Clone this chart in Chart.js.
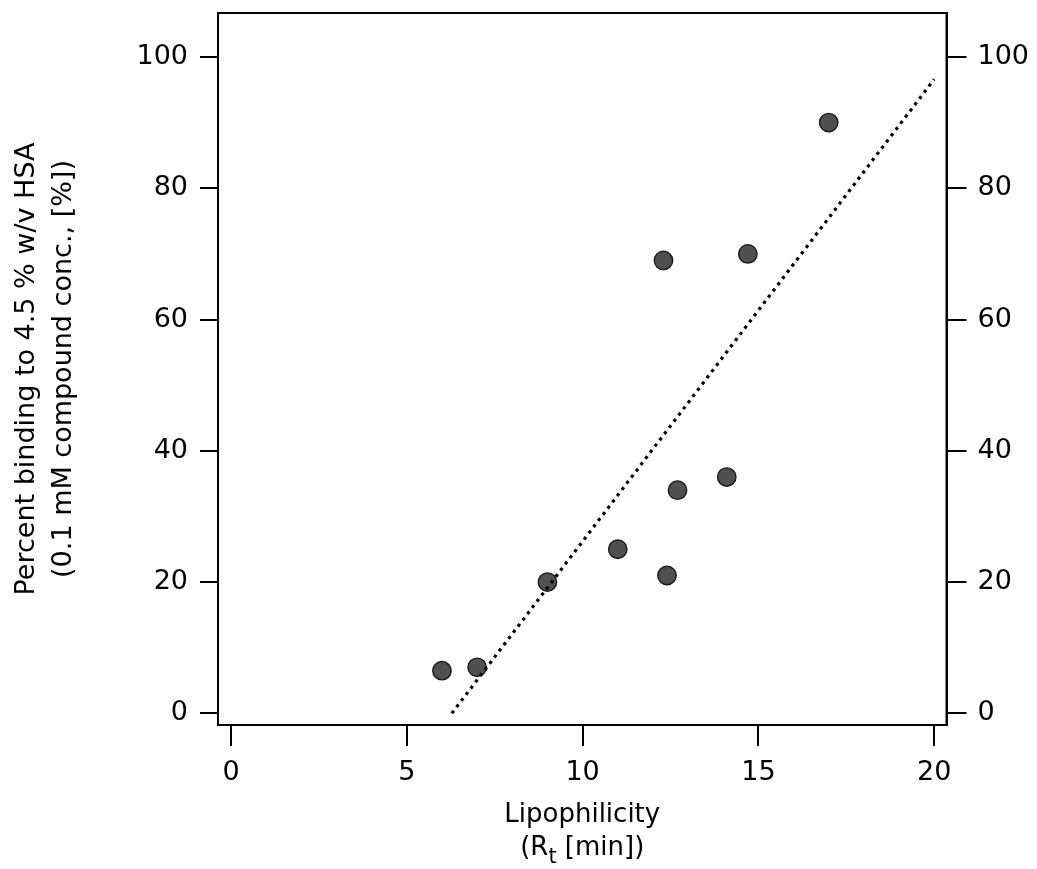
<!DOCTYPE html>
<html>
<head>
<meta charset="utf-8">
<script src="https://cdn.jsdelivr.net/npm/chart.js@4/dist/chart.umd.min.js"></script>
<style>
  html, body { margin: 0; padding: 0; background: #ffffff; }
  #wrap { width: 1037px; height: 869px; }
</style>
</head>
<body>
<div id="wrap"><canvas id="c" width="1037" height="869"></canvas></div>
<script>
// ---- data ----
const lipophilicity = [6.0, 7.0, 9.0, 11.0, 12.4, 12.7, 14.1, 12.3, 14.7, 17.0];
const percentBinding = [6.5, 7.0, 20, 25, 21, 34, 36, 69, 70, 90];
const fitX = [6.28, 20.0];
const fitY = [0, 96.6];
const xTicks = [0, 5, 10, 15, 20];
const yTicks = [0, 20, 40, 60, 80, 100];
const xTitleLine1 = 'Lipophilicity';
const xTitleLine2 = ['(R', 't', ' [min])'];   // main, subscript, main
const yTitle = ['Percent binding to 4.5 % w/v HSA', '(0.1 mM compound conc., [%])'];

const FONT = "'DejaVu Sans', sans-serif";

const scatterData = lipophilicity.map((x, i) => ({ x: x, y: percentBinding[i] }));
const fitData = fitX.map((x, i) => ({ x: x, y: fitY[i] }));

const framePlugin = {
  id: 'frame',
  afterDraw(chart) {
    const { ctx, chartArea: a } = chart;
    ctx.save();
    ctx.strokeStyle = '#000';
    ctx.lineWidth = 2;
    ctx.strokeRect(a.left, a.top, a.right - a.left, a.bottom - a.top);
    ctx.restore();
  }
};

// x-axis title with a real subscript
const xTitlePlugin = {
  id: 'xTitle',
  afterDraw(chart) {
    const { ctx } = chart;
    const sx = chart.scales.x;
    const cx = (sx.left + sx.right) / 2;
    const mainFont = "26px " + FONT;
    const subFont = "21px " + FONT;
    ctx.save();
    ctx.fillStyle = '#000';
    ctx.textBaseline = 'alphabetic';
    ctx.textAlign = 'center';
    ctx.font = mainFont;
    ctx.fillText(xTitleLine1, cx, sx.top + 97);
    const w1 = ctx.measureText(xTitleLine2[0]).width;
    const w3 = ctx.measureText(xTitleLine2[2]).width;
    ctx.font = subFont;
    const w2 = ctx.measureText(xTitleLine2[1]).width;
    let x = cx - (w1 + w2 + w3) / 2;
    const base = sx.top + 130;
    ctx.textAlign = 'left';
    ctx.font = mainFont;
    ctx.fillText(xTitleLine2[0], x, base);
    x += w1;
    ctx.font = subFont;
    ctx.fillText(xTitleLine2[1], x, base + 8);
    x += w2;
    ctx.font = mainFont;
    ctx.fillText(xTitleLine2[2], x, base);
    ctx.restore();
  }
};

function fixedTicks(list) {
  return function (scale) { scale.ticks = list.map(v => ({ value: v })); };
}

const tickFont = { family: FONT, size: 27 };
const titleFont = { family: FONT, size: 27, lineHeight: 1.38 };

new Chart(document.getElementById('c'), {
  type: 'scatter',
  data: {
    datasets: [
      {
        type: 'line',
        label: 'fit',
        data: fitData,
        borderColor: '#000',
        borderWidth: 3.2,
        borderDash: [3.2, 4.6],
        pointRadius: 0,
        fill: false,
        order: 0
      },
      {
        label: 'compounds',
        data: scatterData,
        backgroundColor: '#505050',
        borderColor: '#1a1a1a',
        borderWidth: 1.4,
        pointRadius: 9.2,
        order: 1
      }
    ]
  },
  options: {
    responsive: false,
    animation: false,
    devicePixelRatio: 1,
    layout: { padding: { top: 13, left: 0, right: 0, bottom: 0 } },
    plugins: { legend: { display: false }, tooltip: { enabled: false } },
    scales: {
      x: {
        type: 'linear',
        position: 'bottom',
        min: -0.37,
        max: 20.35,
        afterBuildTicks: fixedTicks(xTicks),
        afterFit(s) { s.height = 144; s.paddingLeft = 0; s.paddingRight = 0; },
        grid: { drawOnChartArea: false, drawTicks: true, tickLength: 21, color: '#000', lineWidth: 2 },
        border: { display: true, color: '#000', width: 2 },
        ticks: { color: '#000', font: tickFont, padding: 11, maxRotation: 0 },
        title: { display: false }
      },
      y: {
        type: 'linear',
        position: 'left',
        min: -1.78,
        max: 106.7,
        afterBuildTicks: fixedTicks(yTicks),
        afterFit(s) { s.width = 218; s.paddingTop = 0; s.paddingBottom = 0; },
        grid: { drawOnChartArea: false, drawTicks: true, tickLength: 18, color: '#000', lineWidth: 2 },
        border: { display: true, color: '#000', width: 2 },
        ticks: { color: '#000', font: tickFont, padding: 12 },
        title: { display: true, text: yTitle, color: '#000', font: titleFont, padding: { top: 8, bottom: 0 } }
      },
      y2: {
        type: 'linear',
        position: 'right',
        min: -1.78,
        max: 106.7,
        afterBuildTicks: fixedTicks(yTicks),
        afterFit(s) { s.width = 90.5; s.paddingTop = 0; s.paddingBottom = 0; },
        grid: { drawOnChartArea: false, drawTicks: true, tickLength: 20, color: '#000', lineWidth: 2 },
        border: { display: true, color: '#000', width: 2 },
        ticks: { color: '#000', font: tickFont, padding: 11 }
      }
    }
  },
  plugins: [framePlugin, xTitlePlugin]
});
</script>
</body>
</html>
